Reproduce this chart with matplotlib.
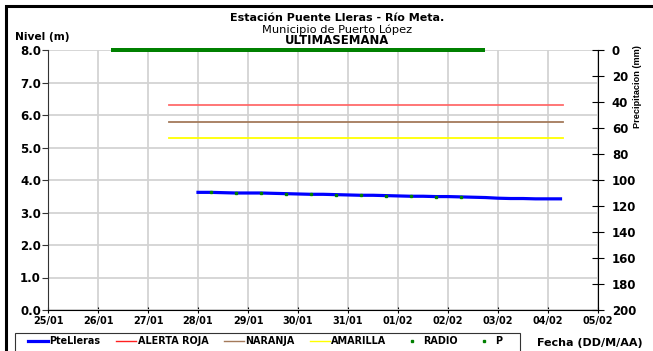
import pandas as pd
import matplotlib.pyplot as plt
import matplotlib.dates as mdates
from matplotlib.lines import Line2D
from matplotlib.patches import Rectangle

plt.rcParams['font.family'] = ['DejaVu Sans']

# Nivel PteLleras (m), cada 6 horas desde 28/01 00:00 hasta 04/02 06:00
nivel_inicio = '2021-01-28 00:00'
nivel = [3.62, 3.62, 3.61, 3.60,
         3.60, 3.60, 3.59, 3.58,
         3.57, 3.56, 3.56, 3.55,
         3.54, 3.53, 3.53, 3.52,
         3.51, 3.50, 3.50, 3.49,
         3.49, 3.48, 3.47, 3.46,
         3.44, 3.43, 3.43, 3.42,
         3.42, 3.42]

# Lecturas de radio, cada 12 horas desde 28/01 06:00
radio_inicio = '2021-01-28 06:00'
radio = [3.62, 3.60, 3.60, 3.58, 3.56, 3.55, 3.53, 3.52, 3.50, 3.49, 3.48]

# Umbrales de alerta
umbral_inicio = '2021-01-27 10:00'
umbral_fin = '2021-02-04 07:00'
alerta_roja = 6.3
naranja = 5.8
amarilla = 5.3

# Precipitacion (mm), horaria
p_inicio = '2021-01-26 07:00'
p_fin = '2021-02-02 17:00'

x_inicio = '2021-01-25'
x_fin = '2021-02-05'

t_nivel = pd.date_range(nivel_inicio, periods=len(nivel), freq='6h')
t_radio = pd.date_range(radio_inicio, periods=len(radio), freq='12h')
t_umbral = pd.to_datetime([umbral_inicio, umbral_fin])
t_p = pd.date_range(p_inicio, p_fin, freq='1h')
p = [0.0] * len(t_p)

fig = plt.figure(figsize=(6.53, 3.51), dpi=100)
ax = fig.add_axes([48 / 653, 1 - 310 / 351, 550 / 653, 260 / 351])
ax2 = ax.twinx()

ax.plot(t_umbral, [alerta_roja] * 2, color='#ff6b6b', lw=1.3, zorder=3)
ax.plot(t_umbral, [naranja] * 2, color='#a47a5a', lw=1.3, zorder=3)
ax.plot(t_umbral, [amarilla] * 2, color='#ffff00', lw=1.3, zorder=3)
ax.plot(t_nivel, nivel, color='#0000ff', lw=2.3, zorder=4)
ax.plot(t_radio, radio, ls='none', marker='s', ms=2, color='#008000', zorder=5)

ax2.plot(t_p, p, ls='none', marker='s', ms=2.6, mew=0, color='#008000', clip_on=False, zorder=5)

ax.set_xlim(pd.Timestamp(x_inicio), pd.Timestamp(x_fin))
ax.set_ylim(0, 8)
ax.set_yticks([0, 1, 2, 3, 4, 5, 6, 7, 8])
ax.yaxis.set_major_formatter(plt.FormatStrFormatter('%.1f'))
ax.xaxis.set_major_locator(mdates.DayLocator())
ax.xaxis.set_major_formatter(mdates.DateFormatter('%d/%m'))
ax.grid(True, color='#d3d3d3', lw=1.3)
ax.set_axisbelow(True)

ax2.set_ylim(200, 0)
ax2.set_yticks(range(0, 201, 20))

for a in (ax, ax2):
    for s in a.spines.values():
        s.set_visible(False)
ax.spines['left'].set_visible(True)
ax.spines['left'].set_color('#333333')
ax.spines['bottom'].set_visible(True)
ax2.spines['right'].set_visible(True)

ax.tick_params(axis='y', direction='out', length=4, labelsize=8.5, pad=1, color='#333333')
ax.tick_params(axis='x', direction='inout', length=5, labelsize=7, pad=1.5)
ax2.tick_params(axis='y', direction='inout', length=8, labelsize=8.5, pad=6)
for lab in ax.get_xticklabels() + ax.get_yticklabels() + ax2.get_yticklabels():
    lab.set_fontweight('bold')

fig.text(337 / 653, 1 - 18 / 351, 'Estación Puente Lleras - Río Meta.', ha='center', va='center',
         fontsize=8, fontweight='bold')
fig.text(337 / 653, 1 - 30 / 351, 'Municipio de Puerto López', ha='center', va='center', fontsize=8.2)
fig.text(337 / 653, 1 - 41 / 351, 'ULTIMASEMANA', ha='center', va='center', fontsize=8.4,
         fontweight='bold')
fig.text(15 / 653, 1 - 37 / 351, 'Nivel (m)', ha='left', va='center', fontsize=7.7, fontweight='bold')
fig.text(638 / 653, 1 - 45 / 351, 'Precipitacion (mm)', ha='center', va='top', rotation=90,
         fontsize=6.6, fontweight='bold', family='Liberation Sans')
fig.text(537 / 653, 1 - 343 / 351, 'Fecha (DD/M/AA)', ha='left', va='center',
         fontsize=8, fontweight='bold')

handles = [
    Line2D([], [], color='#0000ff', lw=2.3),
    Line2D([], [], color='#ff2020', lw=1),
    Line2D([], [], color='#a47a5a', lw=1),
    Line2D([], [], color='#ffff00', lw=1),
    Line2D([], [], ls='none', marker='s', ms=2, color='#008000'),
    Line2D([], [], ls='none', marker='s', ms=2, color='#008000'),
]
labels = ['PteLleras', 'ALERTA ROJA', 'NARANJA', 'AMARILLA', 'RADIO', 'P']
leg = fig.legend(handles, labels, loc='upper left', bbox_to_anchor=(26 / 653, 1 - 334 / 351),
                 ncol=6, frameon=False, prop={'size': 6.9, 'weight': 'bold'},
                 handlelength=2.1, handletextpad=0.15, columnspacing=1.6,
                 borderpad=0.2, borderaxespad=0)

# caja de la leyenda y marco exterior
fig.patches.append(Rectangle((15 / 653, -0.05), 505 / 653, 0.05 + 18 / 351,
                             transform=fig.transFigure, fill=False, lw=0.8, edgecolor='#333333'))
fig.patches.append(Rectangle((6 / 653, -0.05), 1.0, 1 - 6 / 351 + 0.05,
                             transform=fig.transFigure, fill=False, lw=2.2, edgecolor='black'))

fig.savefig('out.png', dpi=100)
